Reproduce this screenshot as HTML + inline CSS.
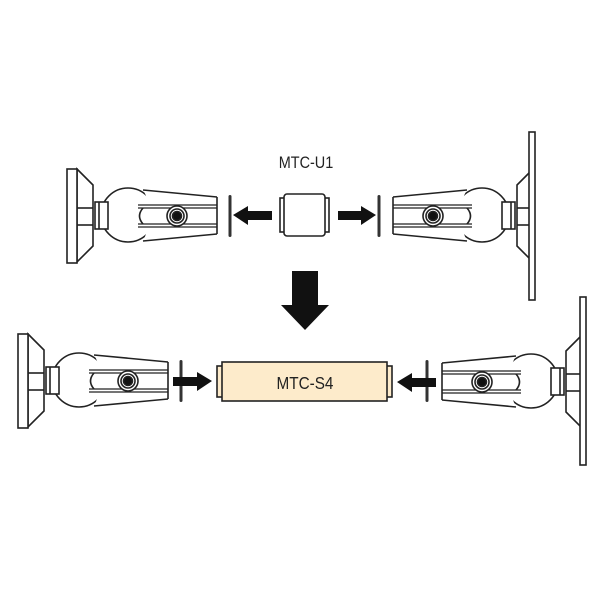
<!DOCTYPE html>
<html><head><meta charset="utf-8"><style>html,body{margin:0;padding:0;background:#fff}svg{display:block}</style></head><body>
<svg width="600" height="600" viewBox="0 0 600 600" xmlns="http://www.w3.org/2000/svg">
<defs>
<g id="arm" stroke="#222" stroke-width="1.6" fill="#fff">
  <circle cx="128" cy="215" r="27"/>
  <path d="M143,190 L217,197 L217,234 L143,241 Q150,228 145,215 Q150,200 143,190 Z" stroke="none"/>
  <line x1="143" y1="190" x2="217" y2="197"/>
  <line x1="143" y1="241" x2="217" y2="234"/>
  <line x1="217" y1="197" x2="217" y2="234"/>
  <path d="M138,205 L217,205 M138,208 L217,208 M138,224 L217,224 M138,227 L217,227" stroke-width="1.3"/>
  <path d="M143,208 Q136,216 143,224" fill="none"/>
  <rect x="95" y="202" width="13" height="27"/>
  <line x1="99" y1="202" x2="99" y2="229"/>
  <path d="M77,169 L93,185 L93,246 L77,262 Z"/>
  <line x1="77" y1="208" x2="93" y2="208"/>
  <line x1="77" y1="225" x2="93" y2="225"/>
  <circle cx="177" cy="216" r="10"/>
  <circle cx="177" cy="216" r="7"/>
  <circle cx="177" cy="216" r="4.5" fill="#111"/>
</g>
</defs>
<use href="#arm"/>
<rect x="67" y="169" width="10" height="94" fill="#fff" stroke="#222" stroke-width="1.6"/>
<g transform="translate(610,0) scale(-1,1)"><use href="#arm"/>
<rect x="75" y="132" width="6" height="168" fill="#fff" stroke="#222" stroke-width="1.6"/></g>
<g transform="translate(-49,165)"><use href="#arm"/>
<rect x="67" y="169" width="10" height="94" fill="#fff" stroke="#222" stroke-width="1.6"/></g>
<g transform="translate(659,0) scale(-1,1)"><g transform="translate(0,166)"><use href="#arm"/></g>
<rect x="73" y="297" width="6" height="168" fill="#fff" stroke="#222" stroke-width="1.6"/></g>

<text x="306" y="168" font-family="Liberation Sans, sans-serif" font-size="17" text-anchor="middle" fill="#222" transform="translate(306,0) scale(0.85,1) translate(-306,0)">MTC-U1</text>
<rect x="228.5" y="195" width="3" height="42" rx="1.5" fill="#333"/>
<rect x="377.5" y="195" width="3" height="42" rx="1.5" fill="#333"/>
<polygon points="233,215 248,206 248,211 272,211 272,220 248,220 248,225" fill="#111"/>
<polygon points="376,215 361,206 361,211 338,211 338,220 361,220 361,225" fill="#111"/>
<g stroke="#222" stroke-width="1.6" fill="#fff">
  <rect x="280" y="198" width="6" height="34"/>
  <rect x="323" y="198" width="6" height="34"/>
  <rect x="284" y="194" width="41" height="42" rx="3"/>
</g>
<polygon points="292,271 318,271 318,305 329,305 305,330 281,305 292,305" fill="#111"/>
<rect x="179.5" y="360" width="3" height="42" rx="1.5" fill="#333"/>
<polygon points="212,381 197,372 197,377 173,377 173,386 197,386 197,391" fill="#111"/>
<rect x="425.5" y="360" width="3" height="42" rx="1.5" fill="#333"/>
<polygon points="397,382 412,373 412,378 436,378 436,387 412,387 412,392" fill="#111"/>
<g stroke="#222" stroke-width="1.6" fill="#fdebcb">
  <rect x="217" y="366" width="6" height="31"/>
  <rect x="386" y="366" width="6" height="31"/>
  <rect x="222" y="362" width="165" height="39"/>
</g>
<text x="305" y="389" font-family="Liberation Sans, sans-serif" font-size="18" text-anchor="middle" fill="#222" transform="translate(305,0) scale(0.85,1) translate(-305,0)">MTC-S4</text>
</svg>
</body></html>
